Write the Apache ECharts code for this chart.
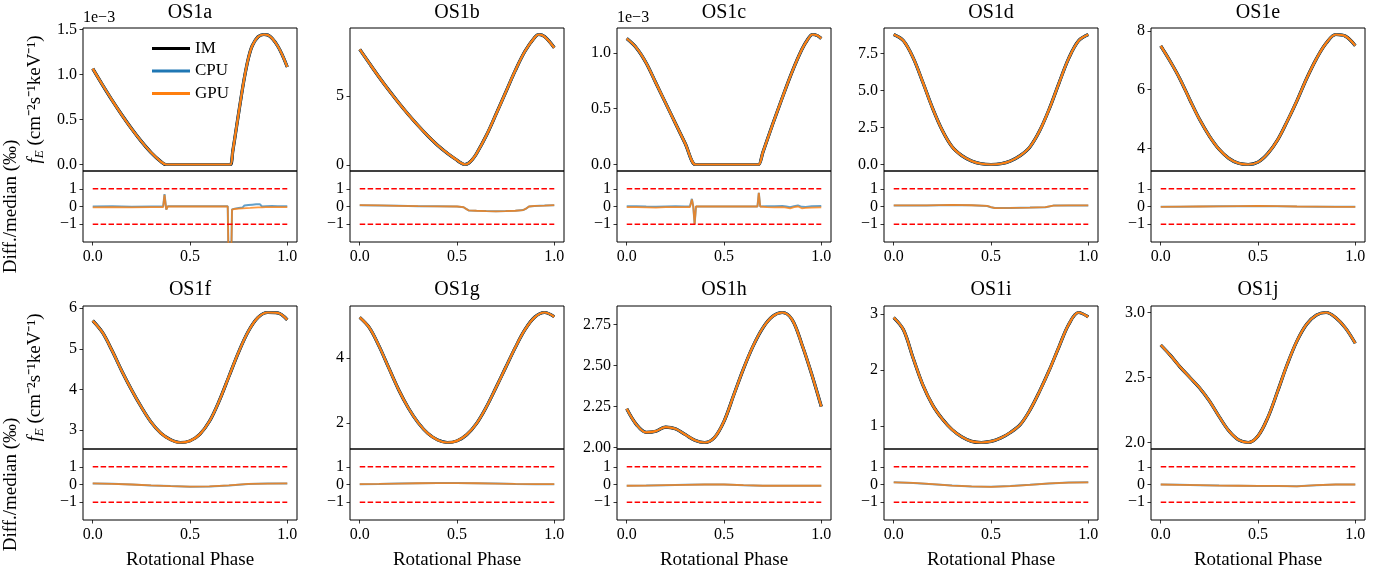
<!DOCTYPE html>
<html>
<head>
<meta charset="utf-8">
<script src="https://cdn.jsdelivr.net/npm/echarts@6/dist/echarts.min.js"></script>
<style>
  html, body { margin: 0; background: #fff; }
  #chart { width: 1400px; height: 580px; }
</style>
</head>
<body>
<div id="chart"></div>
<script>
// ---- data ----
const phase21 = [0, 0.05, 0.1, 0.15, 0.2, 0.25, 0.3, 0.35, 0.4, 0.45, 0.5, 0.55, 0.6, 0.65, 0.7, 0.75, 0.8, 0.85, 0.9, 0.95, 1];
const phase11 = [0, 0.1, 0.2, 0.3, 0.4, 0.5, 0.6, 0.7, 0.8, 0.9, 1];
const phaseTicks = ['0.0', '0.5', '1.0'];
const diffTicks = ['−1', '0', '1'];
const limitPhase = [0, 1];
const limitUp = [1, 1];
const limitDown = [-1, -1];

// OS1a (flux in units of 1e-3)
const aPhase = [0, 0.05, 0.1, 0.15, 0.2, 0.25, 0.3, 0.35, 0.376, 0.39, 0.55, 0.69, 0.708, 0.72, 0.74, 0.76, 0.78, 0.8, 0.82, 0.85, 0.88, 0.9, 0.95, 1];
const aFlux = [1.066, 0.886, 0.713, 0.55, 0.397, 0.257, 0.133, 0.033, 0, 0, 0, 0, 0, 0.15, 0.43, 0.71, 0.97, 1.18, 1.32, 1.42, 1.445, 1.44, 1.32, 1.084];
const aDPhase = [0, 0.1, 0.2, 0.3, 0.362, 0.369, 0.378, 0.386, 0.45, 0.55, 0.694, 0.698, 0.712, 0.716, 0.73, 0.75, 0.76, 0.77, 0.78, 0.79, 0.8, 0.81, 0.82, 0.83, 0.84, 0.85, 0.86, 0.87, 0.88, 0.89, 0.9, 0.92, 0.95, 1];
const aCpu = [0, 0.01, -0.01, 0, 0, 0.7, -0.17, 0.02, 0.02, 0.02, 0.02, -3, -3, -0.17, -0.12, -0.08, 0.02, -0.06, 0.06, -0.04, 0.08, -0.02, 0.1, 0, 0.12, 0.02, 0.12, 0, 0.1, 0.02, 0.08, 0.03, 0.02, 0.02];
const aGpu = [-0.05, -0.04, -0.05, -0.04, -0.04, 0.66, -0.17, 0, 0, 0, 0, -3, -3, -0.17, -0.14, -0.12, -0.05, -0.1, -0.02, -0.09, 0, -0.08, 0.02, -0.06, 0.04, -0.05, 0.03, -0.05, 0.02, -0.04, 0, -0.03, -0.03, -0.03];
const aTicks = ['0.0', '0.5', '1.0', '1.5'];

// OS1b
const bPhase = [0, 0.05, 0.1, 0.15, 0.2, 0.25, 0.3, 0.35, 0.4, 0.45, 0.5, 0.52, 0.54, 0.56, 0.58, 0.6, 0.65, 0.7, 0.75, 0.8, 0.85, 0.9, 0.92, 0.95, 1];
const bFlux = [8.37, 7.35, 6.35, 5.4, 4.5, 3.65, 2.85, 2.1, 1.42, 0.84, 0.33, 0.14, 0.02, 0.12, 0.4, 0.8, 2.1, 3.65, 5.25, 6.85, 8.25, 9.25, 9.45, 9.3, 8.49];
const bDPhase = [0, 0.1, 0.2, 0.3, 0.4, 0.5, 0.534, 0.545, 0.56, 0.6, 0.65, 0.7, 0.75, 0.8, 0.84, 0.855, 0.87, 0.9, 0.95, 1];
const bDiff = [0.075, 0.06, 0.04, 0.02, 0.01, 0, -0.04, -0.12, -0.22, -0.24, -0.26, -0.27, -0.26, -0.24, -0.2, -0.12, 0, 0.03, 0.05, 0.075];
const bTicks = ['0', '5'];

// OS1c (flux in units of 1e-3)
const cPhase = [0, 0.05, 0.1, 0.15, 0.2, 0.25, 0.3, 0.353, 0.366, 0.5, 0.665, 0.678, 0.7, 0.75, 0.8, 0.85, 0.9, 0.93, 0.955, 0.98, 1];
const cFlux = [1.129, 1.045, 0.91, 0.73, 0.55, 0.37, 0.19, 0, 0, 0, 0, 0, 0.11, 0.36, 0.6, 0.83, 1.03, 1.12, 1.165, 1.155, 1.129];
const cDPhase = [0, 0.05, 0.1, 0.15, 0.2, 0.25, 0.3, 0.325, 0.335, 0.342, 0.349, 0.356, 0.362, 0.45, 0.55, 0.65, 0.672, 0.679, 0.686, 0.72, 0.76, 0.8, 0.82, 0.84, 0.86, 0.88, 0.9, 0.92, 0.95, 1];
const cCpu = [0.02, 0.02, 0, -0.01, 0, 0.01, 0, 0, 0.43, 0, -1, 0, 0, 0, 0, 0, 0, 0.77, 0, 0.02, 0.01, 0.03, 0, -0.04, 0.02, 0.06, -0.02, -0.03, 0.01, 0.03];
const cGpu = [-0.04, -0.04, -0.05, -0.06, -0.04, -0.03, -0.04, -0.03, 0.4, 0, -1, 0, 0, 0, 0, 0, 0, 0.77, 0, -0.04, -0.05, -0.04, -0.06, -0.11, -0.04, 0, -0.1, -0.08, -0.06, -0.05];
const cTicks = ['0.0', '0.5', '1.0'];

// OS1d
const dFlux = [8.8, 8.38, 7.22, 5.55, 3.8, 2.3, 1.2, 0.6, 0.24, 0.05, 0, 0.05, 0.24, 0.6, 1.19, 2.28, 3.78, 5.53, 7.2, 8.37, 8.8];
const dDPhase = [0, 0.1, 0.17, 0.18, 0.3, 0.4, 0.48, 0.5, 0.52, 0.6, 0.7, 0.78, 0.82, 0.9, 1];
const dDiff = [0.06, 0.06, 0.06, 0.11, 0.09, 0.07, 0.03, -0.04, -0.09, -0.08, -0.06, -0.04, 0.05, 0.06, 0.06];
const dTicks = ['0.0', '2.5', '5.0', '7.5'];

// OS1e
const eFlux = [7.49, 6.95, 6.35, 5.65, 4.98, 4.42, 3.97, 3.66, 3.49, 3.45, 3.53, 3.82, 4.28, 4.92, 5.62, 6.38, 7.05, 7.58, 7.88, 7.82, 7.5];
const eDiff = [-0.02, -0.01, 0, 0.01, 0.02, 0.03, 0.02, 0, -0.01, -0.02, -0.02];
const eTicks = ['4', '6', '8'];

// OS1f
const fFlux = [5.69, 5.4, 4.95, 4.45, 3.99, 3.57, 3.2, 2.93, 2.77, 2.7, 2.74, 2.9, 3.22, 3.72, 4.32, 4.92, 5.43, 5.77, 5.89, 5.88, 5.71];
const fDiff = [0.06, 0.04, 0, -0.05, -0.09, -0.12, -0.11, -0.05, 0.03, 0.05, 0.06];
const fTicks = ['3', '4', '5', '6'];

// OS1g
const gFlux = [5.24, 4.92, 4.35, 3.68, 3.02, 2.46, 2.01, 1.68, 1.48, 1.4, 1.45, 1.64, 1.98, 2.48, 3.08, 3.7, 4.32, 4.87, 5.25, 5.39, 5.26];
const gDiff = [0.02, 0.03, 0.05, 0.07, 0.08, 0.08, 0.07, 0.05, 0.03, 0.02, 0.02];
const gTicks = ['2', '4'];

// OS1h
const hFlux = [2.236, 2.14, 2.093, 2.1, 2.125, 2.115, 2.08, 2.045, 2.031, 2.06, 2.16, 2.32, 2.48, 2.62, 2.73, 2.8, 2.823, 2.78, 2.63, 2.45, 2.25];
const hDiff = [-0.07, -0.06, -0.04, -0.02, 0, 0, -0.04, -0.07, -0.07, -0.07, -0.07];
const hTicks = ['2.00', '2.25', '2.50', '2.75'];

// OS1i
const iFlux = [2.94, 2.72, 2.21, 1.73, 1.37, 1.12, 0.93, 0.8, 0.72, 0.7, 0.72, 0.78, 0.88, 1.02, 1.28, 1.62, 2, 2.42, 2.82, 3.03, 2.95];
const iDiff = [0.12, 0.09, 0.02, -0.06, -0.11, -0.13, -0.09, -0.02, 0.06, 0.11, 0.12];
const iTicks = ['1', '2', '3'];

// OS1j
const jFlux = [2.75, 2.67, 2.58, 2.5, 2.42, 2.32, 2.2, 2.09, 2.02, 2, 2.05, 2.19, 2.39, 2.6, 2.78, 2.91, 2.98, 3, 2.96, 2.88, 2.763];
const jDiff = [0, -0.02, -0.04, -0.06, -0.07, -0.08, -0.08, -0.1, -0.04, 0, 0];
const jTicks = ['2.0', '2.5', '3.0'];

const panels = [
  { name: 'OS1a', fp: aPhase, f: aFlux, dp: aDPhase, cpu: aCpu, gpu: aGpu, ticks: aTicks, exp: '1e−3' },
  { name: 'OS1b', fp: bPhase, f: bFlux, dp: bDPhase, cpu: bDiff, gpu: bDiff, ticks: bTicks },
  { name: 'OS1c', fp: cPhase, f: cFlux, dp: cDPhase, cpu: cCpu, gpu: cGpu, ticks: cTicks, exp: '1e−3' },
  { name: 'OS1d', fp: phase21, f: dFlux, dp: dDPhase, cpu: dDiff, gpu: dDiff, ticks: dTicks },
  { name: 'OS1e', fp: phase21, f: eFlux, dp: phase11, cpu: eDiff, gpu: eDiff, ticks: eTicks },
  { name: 'OS1f', fp: phase21, f: fFlux, dp: phase11, cpu: fDiff, gpu: fDiff, ticks: fTicks },
  { name: 'OS1g', fp: phase21, f: gFlux, dp: phase11, cpu: gDiff, gpu: gDiff, ticks: gTicks },
  { name: 'OS1h', fp: phase21, f: hFlux, dp: phase11, cpu: hDiff, gpu: hDiff, ticks: hTicks },
  { name: 'OS1i', fp: phase21, f: iFlux, dp: phase11, cpu: iDiff, gpu: iDiff, ticks: iTicks },
  { name: 'OS1j', fp: phase21, f: jFlux, dp: phase11, cpu: jDiff, gpu: jDiff, ticks: jTicks }
];

// ---- layout ----
const font = '"Liberation Serif", "Times New Roman", serif';
const colLeft = [83, 350, 617, 884, 1151];
const rowTop = [28, 306];
const W = 214, H1 = 143, H2 = 71;

const zip = (xs, ys) => xs.map((x, k) => [x, ys[k]]);
const num = s => parseFloat(s.replace('−', '-'));
const labelOf = ticks => v => {
  const t = ticks.find(s => Math.abs(num(s) - v) < 1e-9);
  return t === undefined ? '' : t;
};

const grid = [], xAxis = [], yAxis = [], series = [], title = [], graphic = [];

function tickAxis(ticks, extra) {
  const vals = ticks.map(num);
  return Object.assign({
    type: 'value',
    axisLine: { show: false, onZero: false },
    splitLine: { show: false },
    axisTick: { show: true, inside: false, length: 3.5, customValues: vals, lineStyle: { color: '#000', width: 0.8 } },
    axisLabel: { customValues: vals, formatter: labelOf(ticks), color: '#000', fontFamily: font, fontSize: 16 }
  }, extra);
}

panels.forEach((p, i) => {
  const c = i % 5, r = Math.floor(i / 5);
  const left = colLeft[c], top = rowTop[r];
  const gi = grid.length;
  grid.push({ left, top, width: W, height: H1, show: true, borderColor: '#000', borderWidth: 1 });
  grid.push({ left, top: top + H1, width: W, height: H2, show: true, borderColor: '#000', borderWidth: 1 });

  // matplotlib-like 5% margins
  const lo = Math.min(...p.f), hi = Math.max(...p.f), m = (hi - lo) * 0.05;

  xAxis.push({ gridIndex: gi, type: 'value', min: -0.05, max: 1.05, axisLine: { show: false, onZero: false },
    axisTick: { show: false }, axisLabel: { show: false }, splitLine: { show: false } });
  const bx = tickAxis(phaseTicks, { gridIndex: gi + 1, min: -0.05, max: 1.05 });
  bx.axisLabel.margin = 7;
  if (r === 1) {
    bx.name = 'Rotational Phase';
    bx.nameLocation = 'middle';
    bx.nameGap = 31;
    bx.nameTextStyle = { fontFamily: font, fontSize: 19, color: '#000' };
  }
  xAxis.push(bx);

  const ty = tickAxis(p.ticks, { gridIndex: gi, min: lo - m, max: hi + m });
  ty.axisLabel.margin = 6;
  const by = tickAxis(diffTicks, { gridIndex: gi + 1, min: -2, max: 2 });
  by.axisLabel.margin = 6;
  if (c === 0) {
    ty.name = '{i|f}{s|E} (cm⁻²s⁻¹keV⁻¹)';
    ty.nameLocation = 'middle';
    ty.nameRotate = 90;
    ty.nameGap = 37;
    ty.nameTextStyle = { fontFamily: font, fontSize: 19, color: '#000', lineHeight: 22,
      rich: { i: { fontFamily: font, fontSize: 19, fontStyle: 'italic', lineHeight: 22 },
              s: { fontFamily: font, fontSize: 13, fontStyle: 'italic', verticalAlign: 'bottom', lineHeight: 22 } } };
    by.name = 'Diff./median (‰)';
    by.nameLocation = 'middle';
    by.nameRotate = 90;
    by.nameGap = 62;
    by.nameTextStyle = { fontFamily: font, fontSize: 19, color: '#000' };
  }
  yAxis.push(ty, by);

  title.push({ text: p.name, left: left + W / 2, top: r === 0 ? 3 : 280, textAlign: 'center', padding: 0,
    textStyle: { fontFamily: font, fontSize: 20, fontWeight: 'normal', color: '#000' } });
  if (p.exp) {
    graphic.push({ type: 'text', left: left, top: top - 18,
      style: { text: p.exp, font: '16px ' + font, fill: '#000' } });
  }

  const common = { type: 'line', symbol: 'none', showSymbol: false, clip: true, silent: true };
  const top3 = { xAxisIndex: gi, yAxisIndex: gi, smooth: 0.35 };
  series.push(Object.assign({}, common, top3, { name: 'IM', data: zip(p.fp, p.f), color: '#000', lineStyle: { width: 3.2 } }));
  series.push(Object.assign({}, common, top3, { name: 'CPU', data: zip(p.fp, p.f), color: '#1f77b4', lineStyle: { width: 2.6 } }));
  series.push(Object.assign({}, common, top3, { name: 'GPU', data: zip(p.fp, p.f), color: '#ff7f0e', lineStyle: { width: 2.2 } }));

  const bot = { xAxisIndex: gi + 1, yAxisIndex: gi + 1 };
  series.push(Object.assign({}, common, bot, { name: 'CPU', data: zip(p.dp, p.cpu), color: '#1f77b4', lineStyle: { width: 2, opacity: 0.7 } }));
  series.push(Object.assign({}, common, bot, { name: 'GPU', data: zip(p.dp, p.gpu), color: '#ff7f0e', lineStyle: { width: 1.8, opacity: 0.8 } }));
  series.push(Object.assign({}, common, bot, { name: 'limit', data: zip(limitPhase, limitUp), color: '#ff0000', lineStyle: { width: 1.5, type: [5.5, 2.4] } }));
  series.push(Object.assign({}, common, bot, { name: 'limit', data: zip(limitPhase, limitDown), color: '#ff0000', lineStyle: { width: 1.5, type: [5.5, 2.4] } }));
});

const chart = echarts.init(document.getElementById('chart'));
chart.setOption({
  backgroundColor: '#fff',
  animation: false,
  title: title,
  grid: grid,
  xAxis: xAxis,
  yAxis: yAxis,
  graphic: graphic,
  legend: {
    data: ['IM', 'CPU', 'GPU'],
    orient: 'vertical',
    left: 152,
    top: 40,
    padding: 0,
    icon: 'rect',
    itemWidth: 38,
    itemHeight: 3,
    itemGap: 5.5,
    selectedMode: false,
    textStyle: { fontFamily: font, fontSize: 17, color: '#000' }
  },
  series: series
});
</script>
</body>
</html>
